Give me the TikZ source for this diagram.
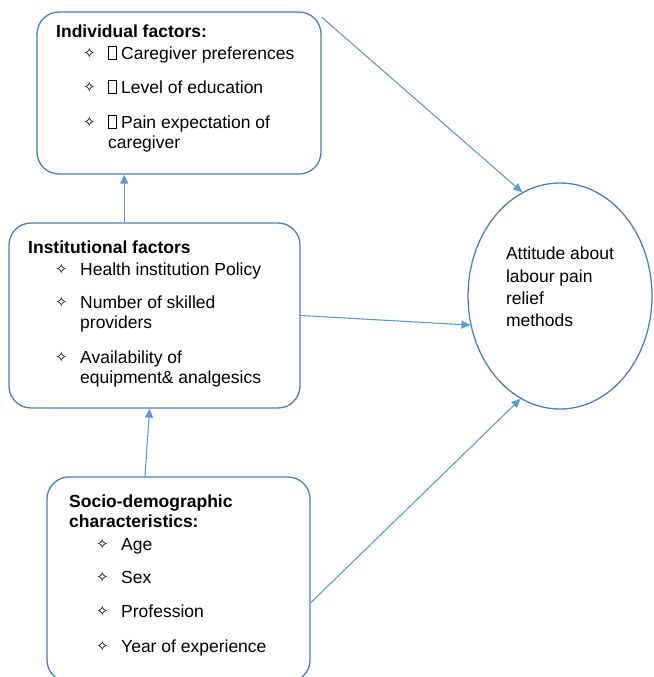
\documentclass[tikz,border=0pt]{standalone}
\usepackage{fontspec}
\setmainfont{Liberation Sans}
\newfontfamily\symfont{DejaVu Sans}
\usetikzlibrary{shapes,shapes.geometric,arrows.meta,calc,positioning}
\definecolor{boxblue}{HTML}{4A7EC8}
\definecolor{lineblue}{HTML}{5B9BD5}
\newcommand{\bul}{\hspace*{27pt}\makebox[25pt][l]{\raisebox{0.5pt}{\fontsize{15}{15}\symfont ✧}}}
\newcommand{\cont}{\hspace*{52pt}}
\newcommand{\nog}{\makebox[13pt][l]{\setlength\fboxsep{0pt}\setlength\fboxrule{0.9pt}\fbox{\rule{0pt}{12pt}\hspace{7pt}}}}

\begin{document}
\begin{tikzpicture}
	[x=1pt,y=-1pt,every node/.style={font=\fontsize{17.5}{20}\selectfont},
	factbox/.style={shape=rectangle,draw=boxblue,line width=1.3pt,rounded corners=22pt},
	facttxt/.style={anchor=north west,align=left,inner sep=0pt},
	link/.style={draw=lineblue,line width=1.1pt,-{Triangle[length=9pt,width=8pt]}}]

	\useasboundingbox (0,0) rectangle (653,677);

	\node[factbox,minimum width=284pt,minimum height=162pt] (indiv) at (179,93) {};
	\node[factbox,minimum width=291pt,minimum height=185pt] (inst) at (154.5,315.5) {};
	\node[factbox,minimum width=263pt,minimum height=205pt] (soc) at (178.5,579.5) {};
	\node[ellipse,draw=boxblue,line width=1.3pt,minimum width=184pt,minimum height=226pt,
		inner sep=0pt,align=left,font=\fontsize{17.5}{22.3}\selectfont,text depth=18pt]
		(atti) at (560,296) {Attitude about\\labour pain\\relief\\methods};

	\node[facttxt] (indivtxt) at (56,23) {\strut\textbf{Individual factors:}\\[2pt]
		\bul\nog Caregiver preferences\\[14pt]
		\bul\nog Level of education\\[15pt]
		\bul\nog Pain expectation of\\
		\cont caregiver};
	\node[facttxt] (insttxt) at (28,239) {\strut\textbf{Institutional factors}\\[2pt]
		\bul Health institution Policy\\[13pt]
		\bul Number of skilled\\
		\cont providers\\[15pt]
		\bul Availability of\\
		\cont equipment\& analgesics};
	\node[facttxt] (soctxt) at (69,493) {\strut\textbf{Socio-demographic}\\
		\textbf{characteristics:}\\[3pt]
		\bul Age\\[13pt]
		\bul Sex\\[14pt]
		\bul Profession\\[15pt]
		\bul Year of experience};

	\draw[link] (inst.108) -- (inst.108 |- indiv.south);
	\draw[link] (soc.108) -- (inst.267);
	\path
	\foreach \startNode/\endNode in {indiv.28/atti.110,inst.east/atti.198,soc.350/atti.249}{
		(\startNode) edge[link] (\endNode)
	};
\end{tikzpicture}
\end{document}
